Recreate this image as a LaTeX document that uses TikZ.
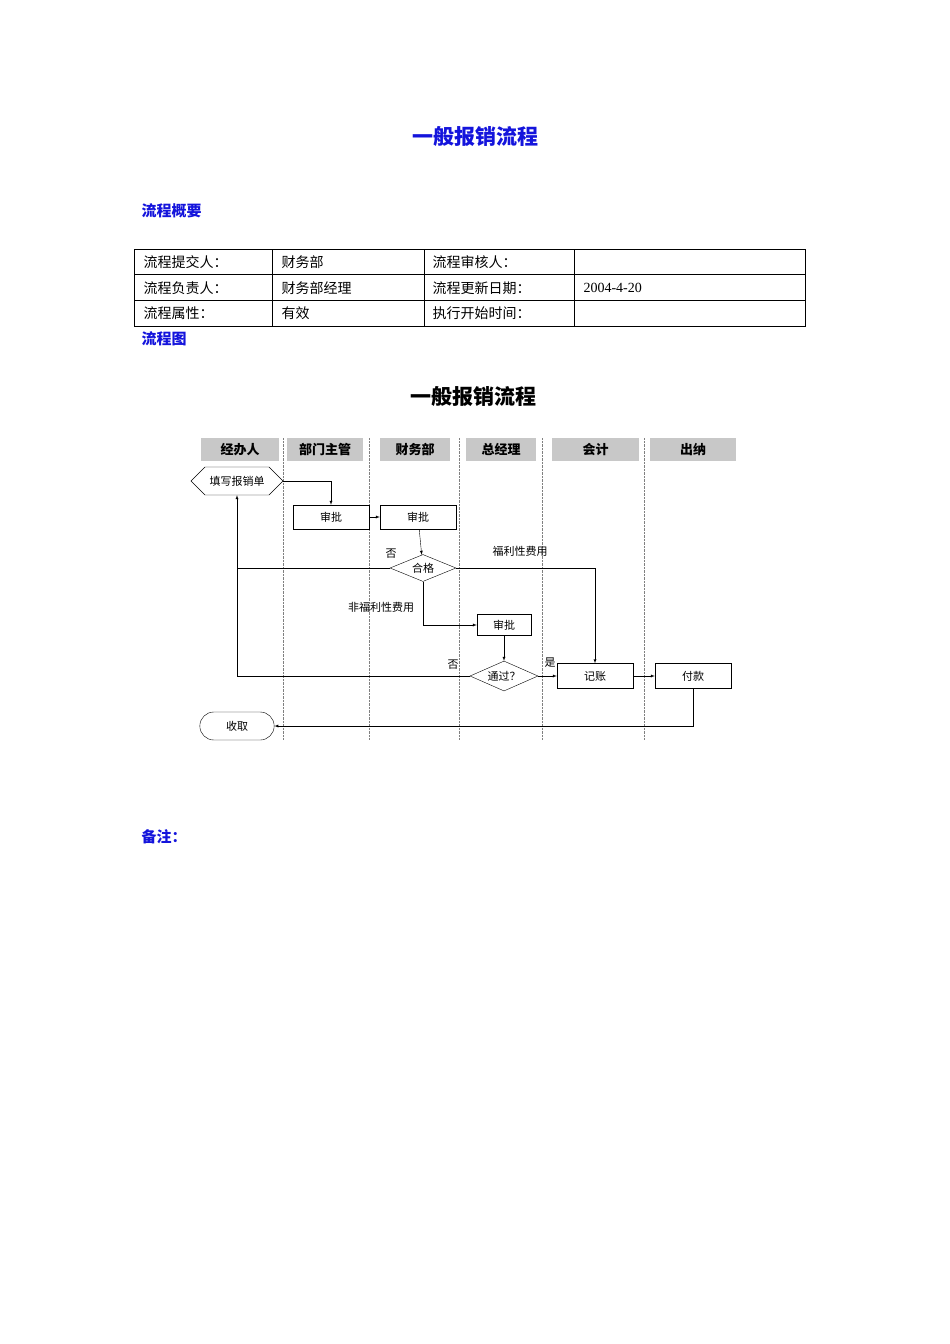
\documentclass[tikz,border=0pt]{standalone}
\usepackage{fontspec}
\setmainfont{Noto Sans CJK SC}
\newfontfamily\latinfont{Liberation Serif}
\usetikzlibrary{shapes.geometric,shapes.misc,shapes.symbols}
\definecolor{headblue}{RGB}{20,20,220}
\definecolor{lanegray}{RGB}{200,200,200}
\tikzset{
  heading/.style={font=\fontsize{15}{15}\selectfont\bfseries,text=headblue,anchor=west},
  cell/.style={font=\fontsize{14}{14}\selectfont,anchor=west},
  lanehead/.style={fill=lanegray,font=\fontsize{13}{13}\selectfont\bfseries,inner sep=0pt},
  stepbox/.style={draw,font=\fontsize{11}{11}\selectfont,inner sep=0pt,minimum width=76,minimum height=24},
  decide/.style={draw,diamond,aspect=2.4,font=\fontsize{11}{11}\selectfont,inner sep=1pt},
  note/.style={font=\fontsize{11}{11}\selectfont},
  arr/.style={-latex,thin}
}
\begin{document}
\begin{tikzpicture}[x=1pt,y=-1pt]
\useasboundingbox (0,0) rectangle (950,1344);
% titles
\node[font=\fontsize{21}{21}\selectfont\bfseries,text=headblue] (title) at (475,137) {一般报销流程};
\node[heading] (summary) at (138,211) {流程概要};
\node[heading] (chart) at (138,339) {流程图};
\node[heading] (remark) at (138,837) {备注：};
% table
\draw (134,249) rectangle (805,326);
\foreach \y in {274,300} \draw (134,\y) -- (805,\y);
\foreach \x in {272,424,574} \draw (\x,249) -- (\x,326);
\node[cell] (c11) at (140,262) {流程提交人：};
\node[cell] (c12) at (278,262) {财务部};
\node[cell] (c13) at (429,262) {流程审核人：};
\node[cell] (c21) at (140,288) {流程负责人：};
\node[cell] (c22) at (278,288) {财务部经理};
\node[cell] (c23) at (429,288) {流程更新日期：};
\node[cell,font=\fontsize{14}{14}\selectfont\latinfont] (c24) at (580,288) {2004-4-20};
\node[cell] (c31) at (140,313) {流程属性：};
\node[cell] (c32) at (278,313) {有效};
\node[cell] (c33) at (429,313) {执行开始时间：};
% flowchart
\node[font=\fontsize{21}{21}\selectfont\bfseries] (ftitle) at (473,397) {一般报销流程};
\foreach \xa/\xb/\t [count=\i] in {201/279/经办人,287/363/部门主管,380/450/财务部,466/536/总经理,552/639/会计,650/736/出纳}
  \node[lanehead,minimum width=\xb-\xa,minimum height=23] (lane\i) at ({(\xa+\xb)/2},449.5) {\t};
\foreach \x in {283,369,459,542,644} \draw[densely dotted,gray] (\x,438) -- (\x,740);
\node[draw,signal,signal to=west and east,minimum width=92,minimum height=28,inner sep=1pt,note] (fill) at (237,481) {填写报销单};
\node[stepbox] (ok1) at (331,517) {审批};
\node[stepbox] (ok2) at (418,517) {审批};
\node[decide,minimum width=66,minimum height=27] (qual) at (423,568) {合格};
\node[stepbox,minimum width=54,minimum height=21] (ok3) at (504,625) {审批};
\node[decide,minimum width=68,minimum height=30] (pass) at (504,676) {通过？};
\node[stepbox,minimum height=25] (book) at (595,676) {记账};
\node[stepbox,minimum height=25] (pay) at (693,676) {付款};
\node[draw,rounded rectangle,minimum width=81,minimum height=28,note] (recv) at (237,726) {收取};
\draw[arr] (fill.east) -| (ok1.north);
\draw[arr] (ok1) -- (ok2);
\draw[arr] (ok2) -- (qual);
\draw (qual.west) -- (237,568);
\draw[arr] (pass.west) -| (fill.south);
\draw[arr] (qual.east) -| (book.north);
\draw[arr] (qual.south) |- (ok3.west);
\draw[arr] (ok3) -- (pass);
\draw[arr] (pass) -- (book);
\draw[arr] (book) -- (pay);
\draw[arr] (pay.south) |- (recv.east);
\node[note] (no1) at (391,554) {否};
\node[note] (welfare) at (520,551) {福利性费用};
\node[note] (nonwelfare) at (381,607) {非福利性费用};
\node[note] (no2) at (453,665) {否};
\node[note] (yes) at (550,663) {是};
\end{tikzpicture}
\end{document}
